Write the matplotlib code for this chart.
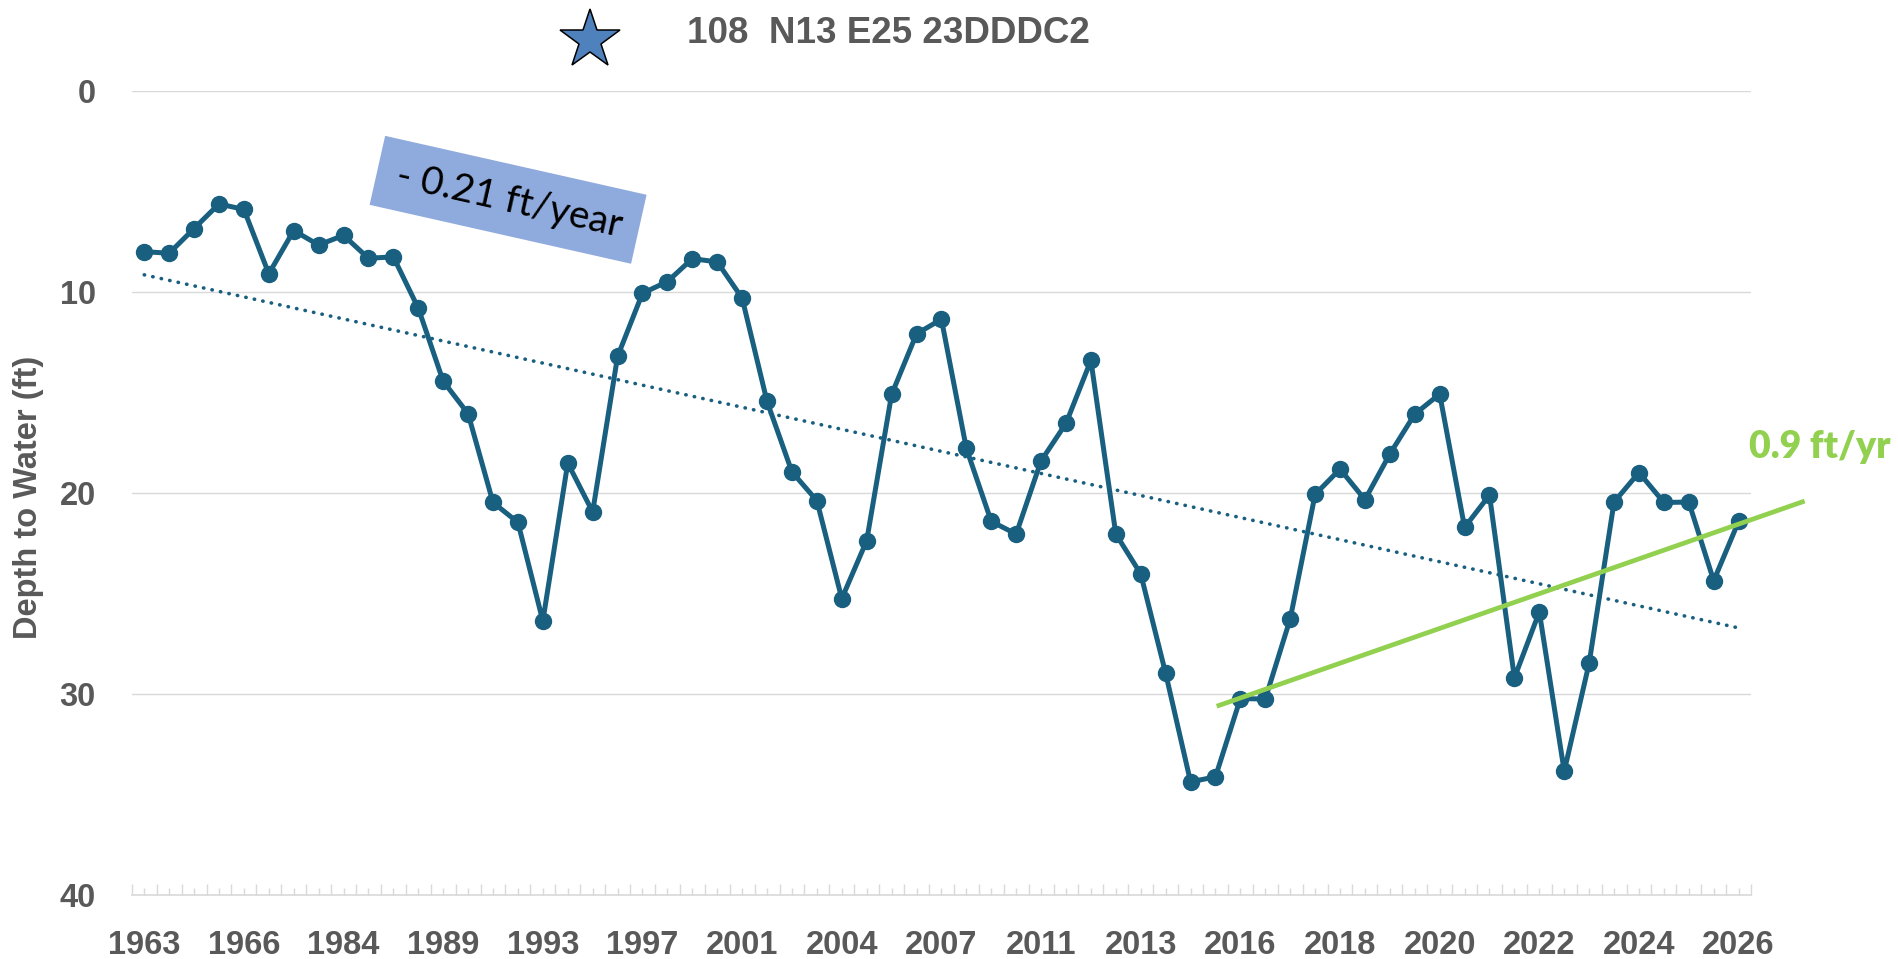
import matplotlib
matplotlib.use('Agg')
import matplotlib.pyplot as plt
from matplotlib.lines import Line2D
from matplotlib.patches import Rectangle
import numpy as np

# depth to water, one value per measurement (category axis, like the excel sheet)
depth = [8.0, 8.08, 6.85, 5.63, 5.9, 9.1, 6.95, 7.67, 7.19, 8.33,
         8.26, 10.81, 14.44, 16.06, 20.47, 21.46, 26.36, 18.51, 20.94, 13.21,
         10.07, 9.49, 8.35, 8.51, 10.31, 15.45, 18.95, 20.38, 25.25, 22.37,
         15.1, 12.09, 11.36, 17.78, 21.41, 22.04, 18.4, 16.54, 13.41, 22.04,
         24.02, 28.96, 34.36, 34.11, 30.22, 30.24, 26.26, 20.07, 18.81, 20.33,
         18.06, 16.08, 15.08, 21.71, 20.1, 29.19, 25.91, 33.83, 28.46, 20.45,
         18.98, 20.47, 20.45, 24.36, 21.41]
# only every 4th category label is shown on the axis
year_labels = ['1963', '1966', '1984', '1989', '1993', '1997', '2001', '2004', '2007',
               '2011', '2013', '2016', '2018', '2020', '2022', '2024', '2026']
# recent trend (green), drawn by hand in the original
recent_x = [43.05, 66.65]
recent_depth = [30.6, 20.4]

yticks = [0, 10, 20, 30, 40]

blue = '#185F80'
green = '#92D050'
grey = '#595959'
grid_c = '#D9D9D9'

plt.rcParams['font.family'] = ['Liberation Sans', 'DejaVu Sans']

fig = plt.figure(figsize=(18.99, 9.59), dpi=100)
ax = fig.add_axes([0.0694, 0.0664, 0.8527, 0.839])

x = np.arange(len(depth))
ax.plot(x, depth, color=blue, lw=3.6, marker='o', ms=11.5, zorder=3)

# linear trend over the whole record
coef = np.polyfit(x, depth, 1)
ax.plot(x, np.polyval(coef, x), color=blue, lw=2.6, ls=(0, (0.1, 2.3)),
        dash_capstyle='round', zorder=2)

ax.plot(recent_x, recent_depth, color=green, lw=3.4, zorder=4, clip_on=False,
        solid_capstyle='butt')

ax.set_xlim(-0.5, len(depth) - 0.5)
ax.set_ylim(40, 0)
ax.set_yticks(yticks)
ax.grid(axis='y', color=grid_c, lw=1.0)
ax.set_axisbelow(True)

labels = [''] * len(depth)
labels[::4] = year_labels
ax.set_xticks(x)
ax.set_xticklabels(labels)
ax.set_xticks(np.arange(len(depth) + 1) - 0.5, minor=True)
ax.tick_params(axis='x', which='major', direction='in', length=4.8, width=1.0,
               color=grid_c, pad=25, labelsize=23.5, labelcolor=grey)
ax.tick_params(axis='x', which='minor', direction='in', length=8, width=1.0,
               color=grid_c)
ax.tick_params(axis='y', length=0, pad=26, labelsize=23.5, labelcolor=grey)
for t in ax.get_xticklabels() + ax.get_yticklabels():
    t.set_fontweight('bold')

for s in ['left', 'right', 'top']:
    ax.spines[s].set_visible(False)
ax.spines['bottom'].set_color(grid_c)
ax.spines['bottom'].set_linewidth(1.2)

# axis title
fig.text(0.29, 4.62, 'Depth to Water (ft)', transform=fig.dpi_scale_trans,
         rotation=90, ha='center', va='center', fontsize=23.5,
         fontweight='bold', color=grey)

# chart title with star marker
fig.text(6.87, 9.16, '108  N13 E25 23DDDC2', transform=fig.dpi_scale_trans,
         ha='left', va='baseline', fontsize=26.5, fontweight='bold', color=grey)
fig.add_artist(Line2D([5.90], [9.19], marker='*', ms=45, mfc='#4F81BD',
                      mec='black', mew=1.1, transform=fig.dpi_scale_trans))

# rotated label box for the long-term rate
box = Rectangle((5.081 - 1.34, 7.592 - 0.3535), 2.68, 0.707, angle=-12.7,
                rotation_point='center', fc='#8FAADC', ec='none',
                transform=fig.dpi_scale_trans)
fig.add_artist(box)
fig.text(5.09, 7.58, '- 0.21 ft/year', transform=fig.dpi_scale_trans,
         rotation=-12.7, rotation_mode='anchor', ha='center', va='center',
         fontsize=28, color='black', family=['Lato', 'DejaVu Sans'])

fig.text(18.2, 5.007, '0.9 ft/yr', transform=fig.dpi_scale_trans,
         ha='center', va='baseline', fontsize=27, fontweight='heavy',
         color=green, family=['Lato', 'DejaVu Sans'])

fig.savefig('out.png', dpi=100)
